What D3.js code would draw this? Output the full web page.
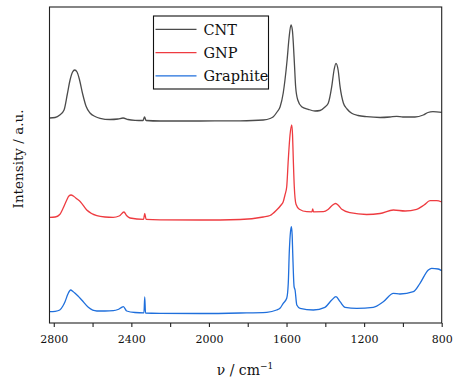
<!DOCTYPE html>
<html>
<head>
<meta charset="utf-8">
<script src="https://cdn.jsdelivr.net/npm/d3@7"></script>
<style>
  body { margin: 0; background: #fff; }
  svg text { font-family: "DejaVu Serif", serif; fill: #111; }
</style>
</head>
<body>
<div id="chart"></div>
<script>
// Raman spectra, wavenumber (cm-1) vs stacked intensity (a.u.)
const seriesNames = ['CNT', 'GNP', 'Graphite'];
const seriesColors = ['#4b4b4b', '#ee3b40', '#1f6fdc'];

const cntWave = [2822, 2793, 2769, 2747, 2730, 2716, 2703, 2692, 2680, 2667, 2651, 2634, 2613, 2587, 2561, 2510, 2469, 2443, 2417, 2381, 2340, 2332, 2324, 2252, 2046, 1839, 1720, 1685, 1668, 1649, 1633, 1617, 1608, 1597, 1587, 1577, 1570, 1565, 1559, 1553, 1542, 1522, 1488, 1453, 1427, 1402, 1385, 1367, 1355, 1345, 1334, 1324, 1307, 1288, 1264, 1231, 1187, 1118, 1067, 1032, 1000, 938, 895, 871, 845, 800];
const cntInt = [205, 205.5, 208, 213, 229, 243, 251, 253, 251, 243, 229, 217, 210, 206.5, 204.7, 203.5, 204, 205, 203.5, 202.7, 202.5, 206, 202.5, 202, 202, 202.2, 203, 204.5, 206.3, 211, 216.3, 230, 243, 263, 285, 298, 293, 280, 258, 236.3, 223, 216.3, 213.7, 212, 212.5, 216, 219.7, 236.3, 253, 259.7, 253, 236.3, 220, 214, 209.7, 207.5, 206.3, 205.5, 206, 206.7, 206, 206, 208, 210.5, 211.3, 210.7];

const gnpWave = [2822, 2793, 2769, 2752, 2733, 2722, 2711, 2696, 2680, 2663, 2630, 2578, 2536, 2494, 2463, 2438, 2425, 2407, 2337, 2331, 2324, 2252, 2046, 1839, 1720, 1685, 1651, 1628, 1617, 1608, 1599, 1591, 1582, 1573, 1569, 1565, 1560, 1551, 1534, 1496, 1469, 1465, 1461, 1410, 1386, 1365, 1347, 1332, 1315, 1273, 1187, 1118, 1049, 989, 929, 891, 860, 826, 800];
const gnpInt = [105.7, 106, 108.5, 114.7, 123, 127, 128, 126.5, 124, 121.3, 113, 107.3, 106, 105.7, 107, 111, 107.5, 105, 103.7, 109.7, 103.7, 103.2, 103, 103.5, 106, 107.5, 113, 118, 121.3, 128, 136.3, 163, 188, 198, 188, 163, 136.3, 118.7, 113.7, 111.3, 111.2, 114, 111.2, 111.3, 113.5, 117.5, 119.5, 117.5, 113.7, 110.3, 108.5, 109.5, 113, 112, 113.7, 118, 122.3, 122.3, 121];

const graphiteWave = [2822, 2793, 2769, 2753, 2742, 2727, 2713, 2701, 2690, 2675, 2656, 2622, 2578, 2536, 2493, 2469, 2450, 2441, 2424, 2381, 2335, 2331, 2327, 2252, 2046, 1839, 1702, 1651, 1634, 1617, 1599, 1591, 1586, 1581, 1575, 1571, 1568, 1561, 1556, 1547, 1530, 1462, 1402, 1367, 1345, 1324, 1298, 1238, 1153, 1101, 1049, 1015, 946, 912, 869, 852, 818, 800];
const graphiteInt = [11.3, 11.7, 13, 17, 21.3, 29, 33, 31.5, 29.7, 27, 23, 15.7, 12, 12, 12.3, 13.5, 15.7, 16.3, 12, 10.5, 10.2, 26, 10, 9.7, 9.5, 10, 10.7, 13, 14.7, 19.7, 24.7, 39.7, 69.7, 88, 96.3, 88, 69.7, 36.3, 33, 18, 14.7, 13, 15.7, 23, 26.3, 21.3, 15.7, 14.7, 15.7, 21.3, 29.7, 29, 31.3, 39.7, 53, 54.7, 54, 52.3];

const majorTicks = [2800, 2400, 2000, 1600, 1200, 800];
const minorTicks = [2600, 2200, 1800, 1400, 1000];

const width = 453, height = 383;
const margin = { top: 7, right: 11.3, bottom: 60, left: 49.5 };

const svg = d3.select('#chart').append('svg')
  .attr('width', width)
  .attr('height', height);

const x = d3.scaleLinear()
  .domain([2822, 800])
  .range([margin.left, width - margin.right]);
const y = d3.scaleLinear()
  .domain([0, 316])
  .range([height - margin.bottom, margin.top]);

const series = [
  { name: seriesNames[0], color: seriesColors[0], pts: d3.zip(cntWave, cntInt) },
  { name: seriesNames[1], color: seriesColors[1], pts: d3.zip(gnpWave, gnpInt) },
  { name: seriesNames[2], color: seriesColors[2], pts: d3.zip(graphiteWave, graphiteInt) }
];

const line = d3.line()
  .x(d => x(d[0]))
  .y(d => y(d[1]))
  .curve(d3.curveMonotoneX);

svg.append('g')
  .selectAll('path')
  .data(series)
  .join('path')
  .attr('fill', 'none')
  .attr('stroke', d => d.color)
  .attr('stroke-width', 1.3)
  .attr('stroke-linejoin', 'round')
  .attr('d', d => line(d.pts));

// frame
svg.append('rect')
  .attr('x', margin.left)
  .attr('y', margin.top)
  .attr('width', width - margin.right - margin.left)
  .attr('height', height - margin.bottom - margin.top)
  .attr('fill', 'none')
  .attr('stroke', '#222')
  .attr('stroke-width', 1.1);

const xAxis = g => g.attr('transform', `translate(0,${height - margin.bottom})`)
  .call(d3.axisBottom(x).tickValues(majorTicks.concat(minorTicks).sort(d3.descending))
    .tickSize(4)
    .tickFormat(d => majorTicks.includes(d) ? d : ''))
  .call(g => g.select('.domain').remove())
  .call(g => g.attr('font-family', null))
  .call(g => g.selectAll('.tick line').attr('stroke', '#222').attr('stroke-width', 1.1))
  .call(g => g.selectAll('.tick text')
    .attr('dy', 0)
    .attr('y', 19.5)
    .attr('fill', '#111')
    .style('font-size', '11px'));

svg.append('g').call(xAxis);

// axis titles
const xt = svg.append('text')
  .attr('x', 245)
  .attr('y', 375)
  .attr('text-anchor', 'middle')
  .style('font-size', '14px');
xt.append('tspan').text('ν / cm');
xt.append('tspan').attr('dy', -6).style('font-size', '9px').text('−1');

svg.append('text')
  .attr('transform', 'translate(23,159) rotate(-90)')
  .attr('text-anchor', 'middle')
  .style('font-size', '13.5px')
  .text('Intensity / a.u.');

// legend
const legend = svg.append('g').attr('transform', 'translate(153.5,16)');
legend.append('rect')
  .attr('width', 115)
  .attr('height', 73)
  .attr('fill', '#fff')
  .attr('stroke', '#111')
  .attr('stroke-width', 1.1);
const items = legend.selectAll('g.item')
  .data(series)
  .join('g')
  .attr('class', 'item')
  .attr('transform', (d, i) => `translate(0,${13.3 + i * 23.3})`);
items.append('line')
  .attr('x1', 2).attr('x2', 43)
  .attr('stroke', d => d.color)
  .attr('stroke-width', 1.3);
items.append('text')
  .attr('x', 50)
  .attr('y', 5.2)
  .style('font-size', '14.5px')
  .text(d => d.name);
</script>
</body>
</html>
